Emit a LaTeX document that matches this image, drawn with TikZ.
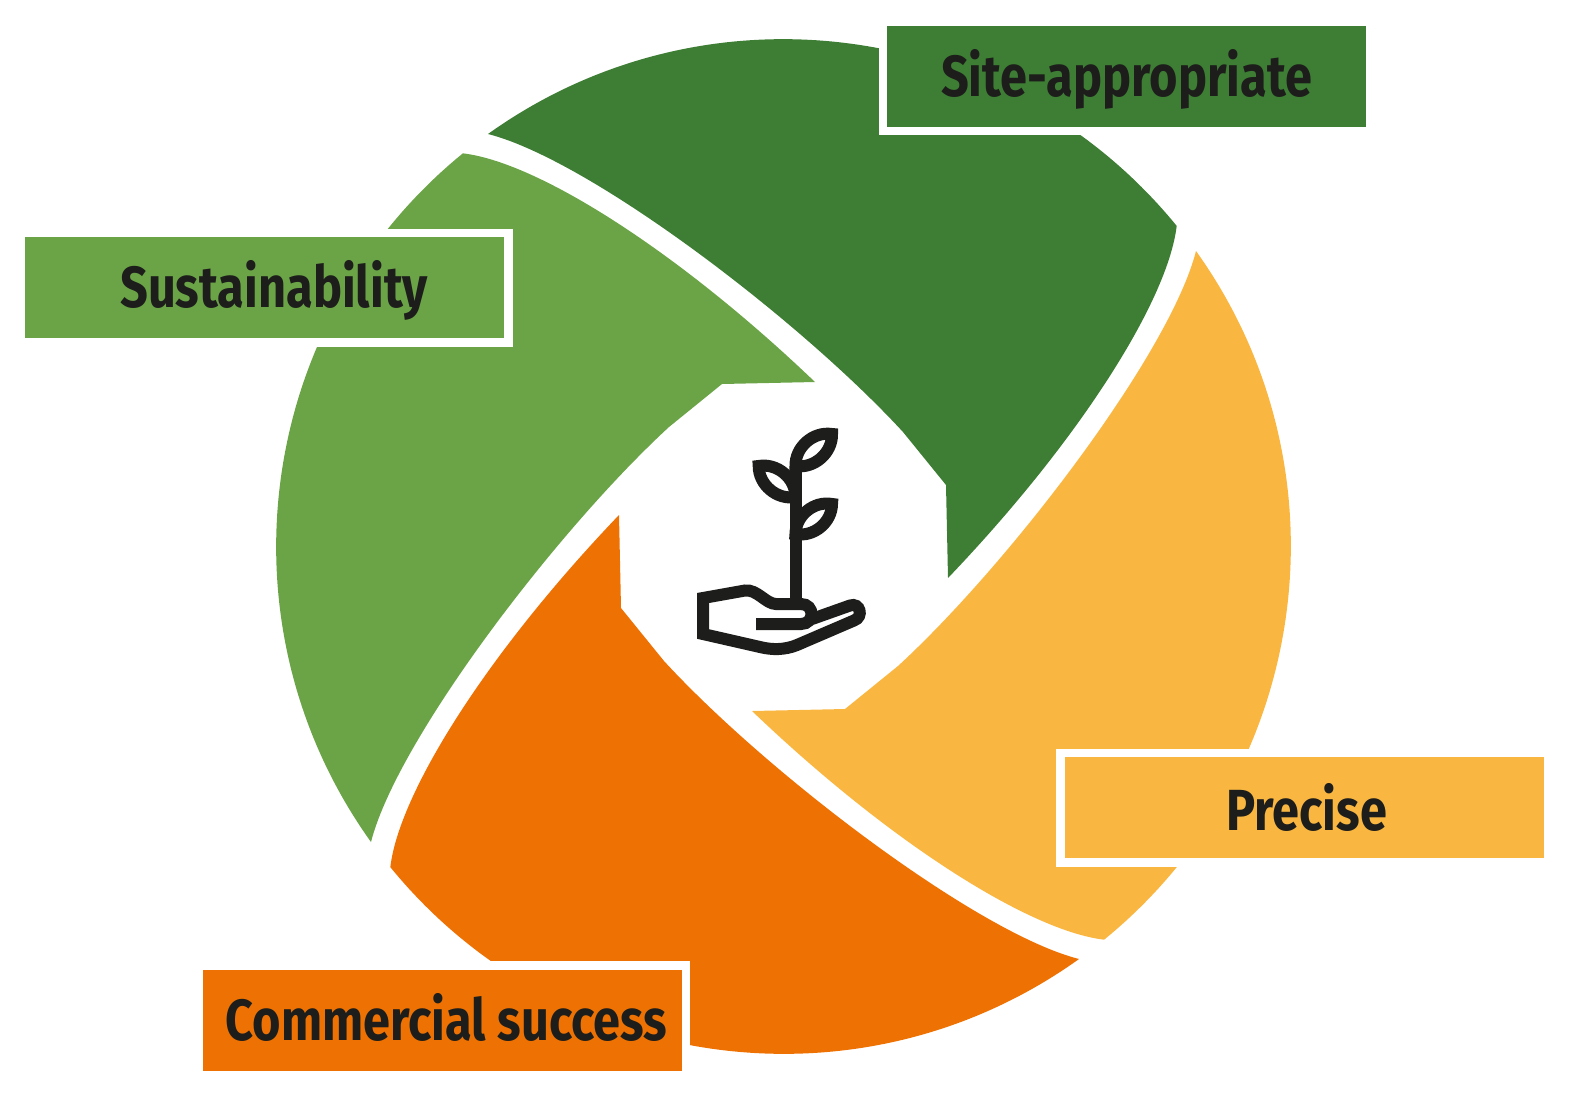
\documentclass[tikz,border=0pt]{standalone}
\usepackage{fontspec}
\setmainfont{Fira Sans}
\newfontfamily\tagfont{Fira Sans}[FakeStretch=0.84]
\usetikzlibrary{calc,positioning}

\definecolor{darkleaf}{HTML}{3D7E34}
\definecolor{lightleaf}{HTML}{6BA447}
\definecolor{sun}{HTML}{F9B742}
\definecolor{carrot}{HTML}{ED7203}
\definecolor{ink}{HTML}{1D1D1B}

\begin{document}
\begin{tikzpicture}[x=1pt, y=-1pt,
    tag/.style={draw=white, line width=8.5pt, minimum width=487.5pt, minimum height=109.5pt, inner sep=0pt},
    tagtext/.style={font=\tagfont\bfseries\fontsize{58}{60}\selectfont, text=ink, inner sep=0pt, text height=40pt, text depth=0pt},
    icon/.style={draw=ink, line width=12pt}]

    \useasboundingbox (0,0) rectangle (1569,1096);
    \coordinate (c) at (783.5,546.5);

    % four blades, one shape turned round the centre
    \foreach \ang/\col in {0/darkleaf, 90/lightleaf, 180/carrot, -90/sun}
        \fill[\col, rotate around={\ang:(c)}] (488,134) arc[start angle=-125.6, end angle=-39.2, radius=507.5]
            .. controls (1168,300) and (1080,440) .. (948,578)
            -- (946,485) -- (903,432)
            .. controls (800,320) and (590,160) .. cycle;

    \node[tag, fill=darkleaf] (site) at (1126.5,76) {};
    \node[tagtext] at (site) {Site-appropriate};
    \node[tag, fill=lightleaf] (sust) at (264.5,287.5) {};
    \node[tagtext, xshift=9.5pt] at (sust) {Sustainability};
    \node[tag, fill=sun] (prec) at (1304,807.5) {};
    \node[tagtext, xshift=2.5pt, yshift=-2.5pt] at (prec) {Precise};
    \node[tag, fill=carrot] (comm) at (442,1020) {};
    \node[tagtext, xshift=4.5pt] at (comm) {Commercial success};

    % plant in a hand
    \draw[icon] (795.5,604) -- (795.5,466);
    \draw[icon] (795.5,466) to[bend left=50] (832,434) to[bend left=50] (795.5,466) -- cycle;
    \draw[icon] (795.5,497) to[bend left=50] (758.7,466) to[bend left=50] (795.5,497) -- cycle;
    \draw[icon] (795.5,534) to[bend left=50] (832,504) to[bend left=50] (795.5,534) -- cycle;
    \draw[icon] (756,624) -- (801,624) .. controls (815,624) and (815,604) .. (801,604) -- (776,604)
        .. controls (766,604) and (757,589) .. (745,590.5) -- (703,598) -- (703,634) -- (760,647)
        .. controls (772,650) and (785,650) .. (797,645) -- (854,620.5)
        .. controls (864,617) and (860,602) .. (850,605.5) -- (812,619);

\end{tikzpicture}
\end{document}
